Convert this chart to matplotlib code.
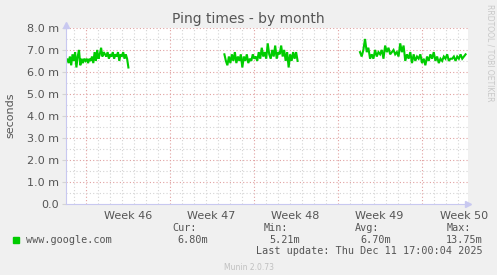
import numpy as np
import matplotlib.pyplot as plt

# valores en ms, tiempo en dias desde el borde izquierdo
seg1_start, seg1_end = 0.0, 5.2
seg1 = [6.5, 6.6, 6.4, 6.7, 6.3, 6.8, 6.5, 6.9, 6.2, 6.7, 7.0, 6.3, 6.6, 6.4,
        6.6, 6.5, 6.6, 6.4, 6.6, 6.5, 6.7, 6.4, 6.9, 6.5, 7.0, 6.6, 6.8, 7.1,
        6.7, 6.9, 6.8, 6.7, 6.9, 6.6, 6.8, 6.7, 6.9, 6.6, 6.8, 6.7, 6.9, 6.5,
        6.8, 6.7, 6.9, 6.6, 6.8, 6.6, 6.2]
seg2_start, seg2_end = 13.2, 19.3
seg2 = [6.8, 6.5, 6.3, 6.7, 6.4, 6.8, 6.5, 6.9, 6.4, 6.7, 6.5, 6.8, 6.2, 6.7,
        6.5, 6.8, 6.4, 6.6, 6.5, 6.8, 6.6, 6.7, 6.5, 6.9, 6.6, 7.1, 6.7, 6.9,
        6.6, 7.3, 6.8, 6.6, 7.0, 6.7, 7.2, 6.6, 6.9, 6.8, 7.2, 6.7, 7.0, 6.5,
        6.9, 6.2, 6.8, 6.5, 6.9, 6.6, 6.9, 6.5]
seg3_start, seg3_end = 24.5, 33.3
seg3 = [6.9, 6.7, 7.0, 7.5, 6.9, 7.1, 6.6, 6.8, 6.6, 7.0, 6.7, 6.9, 6.8, 7.0,
        6.6, 7.2, 6.9, 7.1, 6.8, 6.9, 7.0, 6.8, 6.9, 6.7, 7.3, 6.9, 7.2, 6.5,
        6.8, 6.6, 6.9, 6.4, 6.8, 6.5, 6.7, 6.6, 6.8, 6.4, 6.6, 6.3, 6.7, 6.5,
        6.8, 6.6, 6.9, 6.5, 6.7, 6.4, 6.6, 6.5, 6.7, 6.6, 6.8, 6.5, 6.6, 6.6,
        6.7, 6.5, 6.7, 6.6, 6.8, 6.6, 6.7, 6.8]

week_labels = ['Week 46', 'Week 47', 'Week 48', 'Week 49', 'Week 50']
first_week = 1.64   # primera linea de semana (dias)
x_max = 33.5

legend_name = 'www.google.com'
cur, vmin, avg, vmax = '6.80m', '5.21m', '6.70m', '13.75m'
last_update = 'Last update: Thu Dec 11 17:00:04 2025'

bg = '#F0F0F0'
green = '#00CC00'
txt = '#555555'

fig = plt.figure(figsize=(4.97, 2.75), dpi=100, facecolor=bg)
ax = fig.add_axes([66 / 497, 1 - 203.5 / 275, 402 / 497, 175.5 / 275])
ax.set_facecolor('white')

for start, end, vals in [(seg1_start, seg1_end, seg1),
                         (seg2_start, seg2_end, seg2),
                         (seg3_start, seg3_end, seg3)]:
    x = np.linspace(start, end, len(vals))
    ax.plot(x, vals, color=green, lw=1.5, solid_joinstyle='miter')

ax.set_xlim(0, x_max)
ax.set_ylim(0, 8)

# rejilla estilo rrdtool: dias en gris, semanas en rojo
for d in np.arange(first_week - 1, x_max, 1.0):
    is_week = abs(((d - first_week) / 7) - round((d - first_week) / 7)) < 1e-6
    ax.axvline(d, color='#e0a0a0' if is_week else '#d4d4d4', lw=0.8,
               ls=(0, (1, 2)), zorder=0)
for v in np.arange(0.5, 8.01, 0.5):
    major = abs(v - round(v)) < 1e-6
    ax.axhline(v, color='#e0a0a0' if major else '#d4d4d4', lw=0.8,
               ls=(0, (1, 2)), zorder=0)

ax.set_yticks(np.arange(0, 8.1, 1.0))
ax.set_yticklabels(['0.0'] + ['%.1f m' % v for v in np.arange(1, 8.1, 1.0)],
                   fontsize=8, color=txt)
week_pos = first_week + 3.5 + 7 * np.arange(len(week_labels))
ax.set_xticks([])
for wp, lab in zip(week_pos, week_labels):
    ax.text(wp, -0.35, lab, ha='center', va='top', fontsize=8, color=txt,
            clip_on=False)
ax.tick_params(axis='y', length=3, color='#d4d4d4', pad=2)

for s in ['top', 'right']:
    ax.spines[s].set_visible(False)
ax.spines['left'].set_color('#c8c8f0')
ax.spines['bottom'].set_color('#c8c8f0')
ax.plot([x_max], [0], marker='>', color='#c8c8f0', ms=4, clip_on=False)
ax.plot([0], [8.15], marker='^', color='#c8c8f0', ms=4, clip_on=False)

ax.set_ylabel('seconds', fontsize=8, color=txt, labelpad=8)

fig.text(0.5, 1 - 19 / 275, 'Ping times - by month', ha='center', va='center',
         fontsize=10, color=txt)
fig.text(490 / 497, 1 - 53 / 275, 'RRDTOOL / TOBI OETIKER', rotation=270,
         ha='center', va='center', fontsize=5.5, color='#c8c8c8')

mono = 'DejaVu Sans Mono'
fs = 7.3
fig.add_artist(plt.Rectangle((13 / 497, 1 - 243 / 275), 6 / 497, 6 / 275,
                             color=green, transform=fig.transFigure))
fig.text(26 / 497, 1 - 240 / 275, legend_name, family=mono, fontsize=fs,
         color=txt, va='center')
for lx, rx, lab, val in [(172, 208, 'Cur:', cur), (264, 300, 'Min:', vmin),
                         (355, 391, 'Avg:', avg), (447, 483, 'Max:', vmax)]:
    fig.text(lx / 497, 1 - 228 / 275, lab, family=mono, fontsize=fs,
             color=txt, va='center')
    fig.text(rx / 497, 1 - 240 / 275, val, family=mono, fontsize=fs,
             color=txt, va='center', ha='right')
fig.text(483 / 497, 1 - 251.5 / 275, last_update, family=mono, fontsize=fs,
         color=txt, va='center', ha='right')
fig.text(0.5, 1 - 267 / 275, 'Munin 2.0.73', fontsize=5.5, color='#c0c0c0',
         ha='center', va='center')

fig.savefig('out.png', dpi=100, facecolor=bg)
